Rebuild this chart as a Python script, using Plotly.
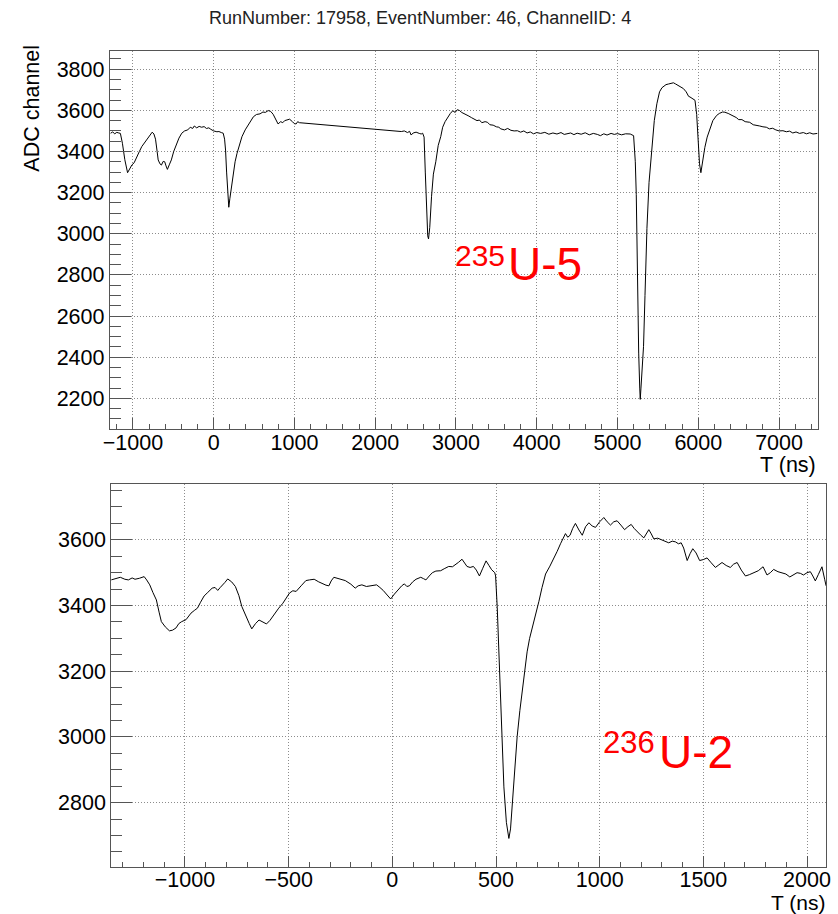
import plotly.graph_objects as go

TITLE = "RunNumber: 17958, EventNumber: 46, ChannelID: 4"

# ---- top waveform (235U-5) ----
top_t = [-1276, -1250, -1225, -1200, -1175, -1155, -1130, -1100, -1066, -1040, -1012, -985, -951, -920, -890,
         -860, -829, -795, -761, -740, -720, -700, -687, -665, -647, -625, -606, -590, -573, -550, -524, -495,
         -463, -430, -395, -360, -321, -290, -260, -240, -210, -180, -150, -118, -90, -60, -36, 0, 40, 65, 95,
         118, 135, 147, 160, 175, 187, 200, 216, 230, 248, 265, 289, 320, 350, 390, 431, 460, 492, 530, 574,
         610, 640, 675, 705, 736, 765, 797, 830, 855, 879, 910, 940, 975, 1000, 1021, 1040, 1062,
         2323, 2360, 2400, 2425, 2445, 2470, 2490, 2506, 2545, 2569, 2587, 2605, 2620, 2636, 2650, 2660, 2675,
         2697, 2720, 2750, 2780, 2811, 2835, 2865, 2897, 2930, 2960, 2990, 3015, 3041, 3070, 3100, 3130, 3160,
         3190, 3226, 3260, 3290, 3320, 3360, 3390, 3420, 3460, 3500, 3530, 3555, 3600, 3640, 3680, 3720, 3760,
         3800, 3840, 3880, 3920, 3960, 4000, 4048, 4100, 4150, 4200, 4250, 4300, 4340, 4377, 4420, 4460, 4500,
         4550, 4600, 4650, 4700, 4750, 4788, 4830, 4870, 4920, 4960, 5000, 5050, 5100, 5157, 5199, 5220, 5232,
         5248, 5262, 5275, 5281, 5290, 5305, 5322, 5340, 5364, 5390, 5425, 5455, 5487, 5520, 5550, 5569, 5600,
         5630, 5660, 5692, 5720, 5750, 5780, 5815, 5850, 5880, 5897, 5930, 5959, 5980, 6000, 6015, 6032, 6050,
         6081, 6110, 6143, 6180, 6226, 6260, 6300, 6329, 6370, 6400, 6431, 6470, 6500, 6540, 6580, 6636, 6680,
         6720, 6760, 6800, 6842, 6880, 6920, 6960, 7000, 7048, 7090, 7130, 7170, 7210, 7253, 7300, 7340, 7380,
         7420, 7476]
top_adc = [3489, 3495, 3486, 3493, 3490, 3488, 3440, 3360, 3297, 3315, 3335, 3345, 3378, 3400, 3424,
           3440, 3460, 3478, 3494, 3485, 3460, 3400, 3359, 3340, 3334, 3352, 3350, 3330, 3313, 3335, 3359, 3400,
           3432, 3465, 3489, 3500, 3505, 3518, 3512, 3524, 3515, 3522, 3518, 3521, 3512, 3515, 3508, 3500, 3496, 3497, 3492,
           3489, 3460, 3407, 3300, 3180, 3129, 3170, 3221, 3260, 3302, 3350, 3391, 3435, 3472, 3505, 3529, 3548, 3569, 3580, 3583,
           3592, 3590, 3599, 3595, 3581, 3555, 3534, 3545, 3540, 3550, 3552, 3557, 3545, 3535, 3534, 3545, 3540,
           3497, 3500, 3492, 3498, 3480, 3490, 3494, 3494, 3488, 3485, 3489, 3470, 3300, 3100, 2990, 2975, 3030,
           3180, 3290, 3350, 3430, 3472, 3518, 3545, 3567, 3585, 3598, 3590, 3603, 3600, 3590, 3585, 3578, 3572,
           3565, 3558, 3550, 3553, 3540, 3545, 3542, 3530, 3528, 3520, 3518, 3510, 3505, 3512, 3503, 3500, 3501,
           3494, 3500, 3490, 3495, 3486, 3492, 3488, 3493, 3484, 3490, 3485, 3492, 3483, 3485, 3490, 3482, 3489,
           3484, 3491, 3481, 3488, 3483, 3477, 3486, 3480, 3488, 3483, 3487, 3481, 3486, 3485, 3477, 3350, 3190,
           2699, 2420, 2250, 2195, 2250, 2350, 2453, 2700, 3026, 3250, 3436, 3550, 3632, 3690, 3710, 3717, 3725,
           3728, 3732, 3734, 3728, 3720, 3712, 3706, 3690, 3668, 3665, 3655, 3649, 3580, 3436, 3340, 3297, 3350,
           3420, 3470, 3510, 3550, 3575, 3585, 3592, 3591, 3585, 3580, 3575, 3565, 3555, 3555, 3545, 3542, 3530,
           3528, 3524, 3520, 3518, 3510, 3513, 3505, 3500, 3501, 3496, 3499, 3490, 3495, 3488, 3492, 3486, 3491,
           3485, 3488]

# ---- bottom waveform (236U-2) ----
bot_t = [-1356, -1335, -1312, -1290, -1273, -1255, -1241, -1220, -1197, -1185, -1170, -1155, -1138, -1125, -1114,
         -1095, -1075, -1060, -1043, -1030, -1016, -995, -971, -955, -940, -925, -908, -890, -869, -855, -842,
         -830, -821, -808, -794, -775, -757, -740, -726, -712, -702, -690, -678, -660, -643, -625, -607, -590,
         -567, -548, -528, -510, -496, -480, -464, -440, -417, -400, -377, -355, -338, -320, -306, -295, -282,
         -255, -227, -200, -179, -165, -147, -125, -100, -76, -60, -44, -25, -8, 10, 27, 45, 58, 70, 82, 98,
         114, 125, 137, 150, 162, 178, 193, 210, 233, 250, 272, 290, 304, 320, 336, 348, 360, 375, 391, 405,
         420, 435, 452, 466, 479, 494, 498, 506, 514, 522, 530, 538, 550, 562, 570, 578, 590, 602, 615, 627,
         640, 650, 662, 675, 690, 707, 722, 739, 760, 779, 795, 811, 823, 835, 846, 857, 870, 883, 900, 916,
         932, 948, 964, 980, 1000, 1020, 1036, 1052, 1068, 1084, 1102, 1120, 1136, 1152, 1166, 1181, 1197, 1213,
         1225, 1237, 1249, 1261, 1280, 1301, 1318, 1333, 1350, 1365, 1380, 1393, 1405, 1422, 1436, 1449, 1465,
         1482, 1500, 1518, 1538, 1558, 1575, 1590, 1610, 1630, 1646, 1663, 1683, 1703, 1722, 1743, 1765, 1788,
         1798, 1807, 1823, 1839, 1860, 1879, 1898, 1917, 1935, 1952, 1968, 1983, 2000, 2016, 2028, 2040, 2055,
         2072, 2085, 2092]
bot_adc = [3478, 3482, 3486, 3480, 3478, 3484, 3480, 3483, 3488, 3478, 3463, 3440, 3417, 3380, 3351,
           3335, 3323, 3325, 3332, 3345, 3351, 3357, 3377, 3385, 3392, 3410, 3429, 3440, 3453, 3455, 3446,
           3455, 3460, 3470, 3481, 3472, 3458, 3430, 3397, 3375, 3362, 3345, 3329, 3345, 3356, 3350, 3344, 3355,
           3377, 3392, 3407, 3425, 3438, 3445, 3443, 3460, 3476, 3478, 3480, 3472, 3466, 3462, 3460, 3475, 3486,
           3480, 3476, 3465, 3453, 3460, 3463, 3458, 3460, 3463, 3455, 3446, 3432, 3420, 3435, 3448, 3460, 3466, 3458, 3460, 3472,
           3480, 3483, 3486, 3482, 3478, 3490, 3500, 3505, 3506, 3512, 3519, 3518, 3524, 3532, 3541, 3530, 3519, 3516, 3519, 3508,
           3490, 3512, 3536, 3522, 3509, 3500, 3490, 3393, 3259, 3105, 2970, 2848, 2740, 2691, 2720, 2796, 2900, 3001, 3080, 3146,
           3205, 3259, 3300, 3331, 3372, 3413, 3455, 3496, 3520, 3542, 3565, 3588, 3605, 3619, 3608, 3614, 3635, 3650, 3630, 3614,
           3640, 3652, 3642, 3638, 3655, 3668, 3655, 3645, 3655, 3658, 3645, 3631, 3640, 3647, 3635, 3624, 3615, 3606,
           3618, 3631, 3618, 3603, 3605, 3600, 3596, 3591, 3596, 3594, 3588, 3591, 3575, 3537, 3558, 3573, 3560,
           3537, 3540, 3545, 3530, 3516, 3524, 3531, 3522, 3516, 3526, 3531, 3508, 3490, 3494, 3500, 3506, 3518,
           3505, 3493, 3500, 3510, 3503, 3500, 3496, 3487, 3495, 3500, 3498, 3493, 3500, 3503, 3490, 3475, 3495,
           3518, 3480, 3460]

W, H = 838, 914
FONT = "Liberation Sans, Arial, Helvetica, sans-serif"
TICKF = dict(family=FONT, size=21.5, color="black")

fig = go.Figure()
fig.add_trace(go.Scatter(x=top_t, y=top_adc, mode="lines", line=dict(color="black", width=1),
                         xaxis="x", yaxis="y", showlegend=False))
fig.add_trace(go.Scatter(x=bot_t, y=bot_adc, mode="lines", line=dict(color="black", width=1),
                         xaxis="x2", yaxis="y2", showlegend=False))

def px(x):
    return x / W

def py(y):
    return 1 - y / H

common = dict(showgrid=True, gridcolor="#8c8c8c", griddash="1px,2px", gridwidth=1,
              showline=True, linecolor="#555555", linewidth=1, mirror=True,
              ticks="inside", tickcolor="#555555", tickfont=TICKF, zeroline=False,
              fixedrange=True)

fig.update_layout(
    width=W, height=H, autosize=False,
    margin=dict(l=0, r=0, t=0, b=0),
    paper_bgcolor="white", plot_bgcolor="white",
    xaxis=dict(domain=[px(104.3), px(822.3)], range=[-1286, 7476], anchor="y",
               tick0=0, dtick=1000, ticklen=11,
               minor=dict(dtick=200, ticklen=5, ticks="inside", tickcolor="#555555", showgrid=False),
               **common),
    yaxis=dict(domain=[py(429), py(50.7)], range=[2051, 3890], anchor="x",
               tick0=0, dtick=200, ticklen=21,
               minor=dict(dtick=50, ticklen=11, ticks="inside", tickcolor="#555555", showgrid=False),
               **common),
    xaxis2=dict(domain=[px(105.7), px(831)], range=[-1356, 2092], anchor="y2",
                tick0=0, dtick=500, ticklen=11,
                minor=dict(dtick=100, ticklen=5, ticks="inside", tickcolor="#555555", showgrid=False),
                **common),
    yaxis2=dict(domain=[py(866.7), py(484)], range=[2605, 3770], anchor="x2",
                tick0=0, dtick=200, ticklen=21,
                minor=dict(dtick=50, ticklen=11, ticks="inside", tickcolor="#555555", showgrid=False),
                **common),
)

try:
    fig.update_layout(xaxis_ticklabelstandoff=-6, xaxis2_ticklabelstandoff=-7)
except Exception:
    pass

ann = []
ann.append(dict(text=TITLE, x=px(419), y=py(18), xref="paper", yref="paper", xanchor="center", yanchor="middle",
                showarrow=False, font=dict(family=FONT, size=18, color="#222222")))
ann.append(dict(text="ADC channel", x=px(25), y=py(108), xref="paper", yref="paper", xanchor="center",
                yanchor="middle", textangle=-90, showarrow=False, font=dict(family=FONT, size=21.5, color="black")))
ann.append(dict(text="T (ns)", x=px(823), y=py(465), xref="paper", yref="paper", xanchor="right",
                yanchor="middle", showarrow=False, font=dict(family=FONT, size=21.5, color="black")))
ann.append(dict(text="T (ns)", x=px(832), y=py(902.5), xref="paper", yref="paper", xanchor="right",
                yanchor="middle", showarrow=False, font=dict(family=FONT, size=21, color="black")))
# isotope labels
ann.append(dict(text="235", x=px(452), y=py(255.6), xref="paper", yref="paper", xanchor="left",
                yanchor="middle", showarrow=False, font=dict(family=FONT, size=30, color="red")))
ann.append(dict(text="U-5", x=px(506), y=py(264), xref="paper", yref="paper", xanchor="left",
                yanchor="middle", showarrow=False, font=dict(family=FONT, size=46, color="red")))
ann.append(dict(text="236", x=px(603), y=py(742), xref="paper", yref="paper", xanchor="left",
                yanchor="middle", showarrow=False, font=dict(family=FONT, size=31, color="red")))
ann.append(dict(text="U-2", x=px(659), y=py(752), xref="paper", yref="paper", xanchor="left",
                yanchor="middle", showarrow=False, font=dict(family=FONT, size=46, color="red")))
fig.update_layout(annotations=ann)

fig.write_html("out.html")
